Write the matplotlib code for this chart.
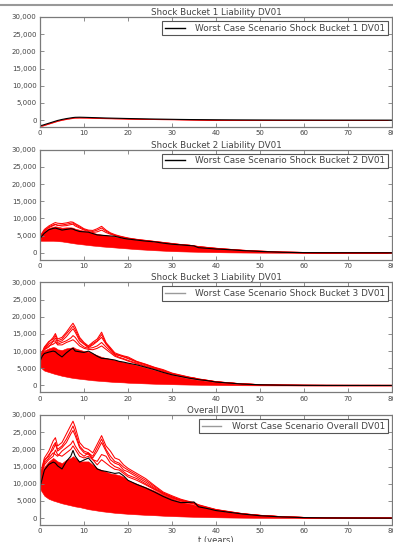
import matplotlib
matplotlib.use("Agg")
import matplotlib.pyplot as plt
from matplotlib.lines import Line2D
from matplotlib.ticker import FuncFormatter
import numpy as np

# time grid (years)
years = [0, 0.5, 1, 2, 3, 3.5, 4, 5, 6, 7, 7.5, 8, 9, 10, 11, 12, 13, 14, 15, 16,
         17, 18, 19, 20, 22, 24, 26, 28, 30, 32, 34, 35, 36, 38, 40, 43, 46, 50, 55, 60,
         65, 70, 80]

titles = ["Shock Bucket 1 Liability DV01", "Shock Bucket 2 Liability DV01",
          "Shock Bucket 3 Liability DV01", "Overall DV01"]
legend_labels = ["Worst Case Scenario Shock Bucket 1 DV01",
                 "Worst Case Scenario Shock Bucket 2 DV01",
                 "Worst Case Scenario Shock Bucket 3 DV01",
                 "Worst Case Scenario Overall DV01"]

# ---- Shock bucket 1 ----
b1_worst = [-1600, -1500, -1300, -900, -500, -300, -100, 200, 450, 650, 750, 820, 850, 820,
            780, 740, 700, 660, 620, 590, 560, 530, 500, 470, 420, 370, 320, 280, 240, 200,
            170, 160, 150, 130, 110, 90, 70, 50, 30, 20, 10, 5, 0]
b1_low = [-1750, -1650, -1450, -1050, -650, -450, -250, 50, 300, 500, 600, 670, 700, 680,
          640, 600, 570, 540, 510, 480, 450, 430, 400, 380, 340, 300, 260, 220, 190, 160,
          140, 130, 120, 100, 85, 70, 55, 40, 25, 15, 8, 4, 0]
b1_high = [-1550, -1450, -1250, -850, -450, -250, -50, 250, 500, 700, 800, 870, 900, 870,
           830, 790, 750, 710, 670, 640, 610, 580, 550, 520, 460, 410, 360, 310, 270, 230,
           200, 185, 170, 150, 130, 100, 80, 60, 35, 22, 12, 6, 0]
b1_paths = []

# ---- Shock bucket 2 ----
b2_worst = [4100, 5000, 5700, 6700, 7100, 7200, 7000, 6600, 6800, 7000, 6900, 6600, 6200,
            6100, 6000, 5600, 5200, 5100, 5000, 4900, 4800, 4500, 4200, 4000, 3700, 3400,
            3200, 2800, 2500, 2300, 2100, 2000, 1500, 1300, 1100, 900, 650, 400, 150, 50,
            20, 10, 0]
b2_low = [3500, 3500, 3500, 3500, 3500, 3450, 3400, 3300, 3100, 2900, 2800, 2700, 2550, 2400,
          2250, 2100, 2000, 1850, 1750, 1650, 1550, 1450, 1350, 1250, 1050, 900, 750, 620,
          500, 420, 350, 320, 290, 230, 180, 120, 80, 40, 15, 5, 0, 0, 0]
b2_high = [4800, 5700, 6400, 7200, 7600, 7700, 7600, 7300, 7400, 7400, 7300, 7000, 6700, 6400,
           6100, 5800, 5500, 5300, 5100, 4900, 4700, 4500, 4300, 4100, 3800, 3500, 3200,
           2900, 2600, 2300, 2100, 1900, 1750, 1500, 1250, 950, 700, 450, 200, 70, 25, 10, 0]
b2_path_a = [4500, 5800, 6800, 7800, 8500, 8800, 8600, 8500, 8700, 9000, 8900, 8500, 7800,
             7000, 6600, 6500, 7000, 7700, 6600, 5800, 5300, 4900, 4600, 4300, 3900, 3600,
             3300, 3000, 2700, 2400, 2200, 2000, 1800, 1550, 1300, 1000, 720, 460, 200, 70,
             25, 10, 0]
b2_path_b = [4300, 5500, 6500, 7500, 8100, 8300, 8000, 8100, 8300, 8600, 8700, 8200, 7500,
             6800, 6400, 6200, 6600, 7200, 6300, 5600, 5100, 4800, 4500, 4200, 3800, 3500,
             3250, 2950, 2650, 2350, 2150, 1950, 1750, 1500, 1250, 970, 700, 450, 200, 70,
             25, 10, 0]
b2_path_c = [4600, 5600, 6300, 7300, 7900, 8200, 8000, 7800, 7900, 8200, 8300, 7800, 7200,
             6600, 6200, 5900, 6100, 6600, 5900, 5400, 5000, 4700, 4400, 4200, 3850, 3550,
             3250, 2950, 2650, 2350, 2150, 1950, 1780, 1520, 1270, 980, 710, 455, 200, 70,
             25, 10, 0]
b2_paths = [b2_path_c, b2_path_b, b2_path_a]

# ---- Shock bucket 3 ----
b3_worst = [7000, 8500, 9300, 9700, 10000, 9800, 9200, 8300, 9500, 10500, 10800, 10000, 9800,
            9600, 10000, 9300, 8500, 7900, 7800, 7600, 7400, 7000, 6800, 6500, 6000, 5300,
            4600, 3800, 3100, 2600, 2100, 1900, 1700, 1400, 1000, 700, 400, 200, 80, 30, 10,
            5, 0]
b3_low = [5500, 4800, 4300, 3900, 3500, 3300, 3150, 2800, 2550, 2300, 2200, 2100, 1950, 1800,
          1650, 1500, 1400, 1300, 1200, 1100, 1000, 950, 900, 800, 700, 600, 500, 430, 370,
          300, 250, 230, 210, 170, 130, 90, 60, 30, 15, 5, 0, 0, 0]
b3_high = [8500, 9500, 10200, 10800, 11200, 11000, 10500, 10300, 10800, 11000, 11200, 10800,
           10400, 10000, 9800, 9300, 8800, 8300, 8000, 7700, 7400, 7100, 6800, 6500, 5900,
           5200, 4500, 3800, 3100, 2500, 2000, 1800, 1600, 1300, 950, 650, 400, 200, 80, 30,
           10, 5, 0]
b3_path_a = [7500, 9500, 11000, 12500, 14000, 15100, 13500, 14000, 15500, 17300, 18100, 17000,
             14000, 12500, 11500, 12600, 13500, 15500, 12500, 11000, 9500, 9000, 8600, 8300,
             7000, 6200, 5300, 4600, 3600, 3000, 2400, 2200, 1900, 1500, 1100, 750, 450, 220,
             90, 30, 10, 5, 0]
b3_path_b = [8000, 9800, 10800, 12000, 13000, 13800, 12500, 13000, 14200, 15800, 16500, 15500,
             13000, 12000, 11000, 11800, 12800, 14000, 12000, 10500, 9000, 8700, 8300, 7800,
             6800, 6000, 5100, 4300, 3400, 2800, 2300, 2100, 1800, 1450, 1050, 720, 430, 210,
             85, 30, 10, 5, 0]
b3_path_c = [7800, 9000, 10500, 11500, 12000, 12500, 12000, 12500, 13000, 13800, 14500, 14000,
             12200, 11200, 10800, 11000, 11500, 12500, 11200, 10000, 8800, 8200, 7800, 7300,
             6500, 5700, 4900, 4100, 3300, 2700, 2200, 2000, 1750, 1400, 1000, 700, 420, 200,
             80, 30, 10, 5, 0]
b3_path_d = [8200, 9300, 10400, 11200, 12800, 13000, 11800, 11800, 12500, 13000, 13300, 12800,
             11500, 10800, 10500, 10400, 10800, 11500, 10500, 9500, 8500, 8000, 7600, 7100,
             6300, 5500, 4800, 4000, 3200, 2650, 2150, 1950, 1700, 1380, 980, 690, 410, 200,
             80, 30, 10, 5, 0]
b3_path_e = [7700, 9600, 11200, 12800, 13500, 14500, 13000, 13500, 15000, 16500, 17300, 16200,
             13500, 12200, 11200, 12200, 13000, 14800, 12200, 10700, 9200, 8800, 8400, 8000,
             6900, 6100, 5200, 4400, 3500, 2900, 2350, 2150, 1850, 1480, 1080, 740, 440, 215,
             88, 30, 10, 5, 0]
b3_paths = [b3_path_d, b3_path_c, b3_path_b, b3_path_e, b3_path_a]

# ---- Overall ----
all_worst = [9000, 11500, 14000, 15600, 16300, 16000, 15200, 14300, 16500, 18000, 19700, 18000,
             16300, 16900, 17500, 16000, 14300, 13800, 13600, 13300, 13000, 13200, 12300,
             11000, 9800, 8800, 7600, 6300, 5200, 4500, 4600, 4700, 3300, 2800, 2200, 1700,
             1200, 700, 350, 150, 60, 30, 0]
all_low = [8500, 7500, 6500, 5600, 5100, 4900, 4700, 4300, 4000, 3700, 3550, 3400, 3200, 2900,
           2600, 2400, 2200, 2000, 1850, 1700, 1550, 1450, 1350, 1250, 1100, 950, 850, 700,
           600, 500, 420, 380, 350, 300, 250, 180, 130, 80, 40, 20, 10, 5, 0]
all_high = [11000, 13500, 15000, 16500, 17500, 17000, 16500, 16000, 17000, 17500, 18000, 17500,
            16500, 16500, 16500, 15500, 14500, 14000, 13500, 13000, 12800, 12500, 12000, 11000,
            10000, 9000, 8000, 6800, 5800, 4800, 4200, 3900, 3500, 2900, 2300, 1700, 1200, 750,
            380, 170, 70, 30, 0]
all_path_a = [10000, 15000, 17500, 19500, 22500, 23400, 21000, 22000, 24500, 27000, 28200,
              26500, 22000, 20500, 20000, 19000, 21500, 24000, 21000, 19500, 17500, 17000,
              15500, 14500, 13000, 11500, 9500, 7600, 6500, 5500, 4800, 4500, 3900, 3200, 2500,
              1900, 1300, 800, 400, 180, 70, 30, 0]
all_path_b = [9500, 14000, 16500, 18500, 20000, 21500, 19500, 20500, 22000, 24500, 25500, 24000,
              20500, 19000, 18500, 17500, 19500, 22000, 19500, 17000, 16000, 15500, 14000,
              13500, 12000, 10500, 8800, 7000, 6000, 5200, 4600, 4300, 3700, 3000, 2400, 1800,
              1250, 780, 390, 170, 70, 30, 0]
all_path_c = [10500, 13000, 16000, 17500, 19000, 18500, 18000, 19500, 20500, 21500, 22500,
              21000, 19000, 18000, 19000, 17000, 16500, 18500, 18000, 16000, 15000, 14500,
              13500, 12500, 11500, 10000, 8500, 7300, 6200, 5000, 4400, 4100, 3600, 3000, 2350,
              1750, 1200, 760, 380, 170, 70, 30, 0]
all_path_d = [10000, 13500, 15500, 17000, 18000, 19800, 18500, 18000, 19000, 20000, 21000,
              20000, 18000, 17500, 18000, 17000, 15500, 17000, 16000, 15000, 14200, 14000,
              13000, 12000, 11000, 9700, 8300, 7000, 5900, 5000, 4400, 4200, 3600, 2950, 2300,
              1750, 1200, 760, 380, 170, 70, 30, 0]
all_path_e = [9800, 14500, 17000, 18000, 21000, 22000, 20000, 21000, 23000, 25500, 26800,
              25000, 21000, 19500, 19000, 18000, 20500, 23000, 20000, 18000, 16500, 16000,
              14800, 14000, 12500, 11000, 9200, 7300, 6200, 5300, 4700, 4400, 3800, 3100, 2450,
              1850, 1280, 790, 395, 175, 70, 30, 0]
all_paths = [all_path_d, all_path_c, all_path_b, all_path_e, all_path_a]

panels = [
    (b1_low, b1_high, b1_paths, b1_worst, "black"),
    (b2_low, b2_high, b2_paths, b2_worst, "black"),
    (b3_low, b3_high, b3_paths, b3_worst, "#9a9a9a"),
    (all_low, all_high, all_paths, all_worst, "#9a9a9a"),
]

text_color = "#444444"
spine_color = "#7a7a7a"

fig = plt.figure(figsize=(3.93, 5.42), dpi=100)
axes = fig.subplots(4, 1)
fig.subplots_adjust(left=40 / 393, right=392 / 393, top=1 - 17 / 542,
                    bottom=1 - 525 / 542, hspace=0.206)

comma = FuncFormatter(lambda v, p: f"{int(v):,}")
t = np.array(years, dtype=float)

for ax, title, label, (lo, hi, paths, worst, handle_col) in zip(axes, titles, legend_labels, panels):
    ax.fill_between(t, lo, hi, color="red", lw=0.4, edgecolor="red")
    for p in paths:
        ax.plot(t, p, color="red", lw=0.75)
    ax.plot(t, worst, color="black", lw=0.8)

    ax.set_xlim(0, 80)
    ax.set_ylim(-2000, 30000)
    ax.set_xticks(np.arange(0, 81, 10))
    ax.set_yticks(np.arange(0, 30001, 5000))
    ax.yaxis.set_major_formatter(comma)
    ax.tick_params(direction="in", top=True, right=True, length=3, width=0.6,
                   labelsize=5, pad=2.5, colors=spine_color, labelcolor=text_color)
    for s in ax.spines.values():
        s.set_color(spine_color)
        s.set_linewidth(0.9)
    ax.set_title(title, fontsize=6.3, pad=1.5, color=text_color)

    handle = Line2D([], [], color=handle_col, lw=1.0)
    leg = ax.legend([handle], [label], loc="upper right", fontsize=6.4, fancybox=False,
                    framealpha=1, edgecolor="#555555", borderaxespad=0.45,
                    borderpad=0.3, handlelength=2.2, handletextpad=1.2)
    leg.get_frame().set_linewidth(0.8)
    for txt in leg.get_texts():
        txt.set_color(text_color)

axes[-1].set_xlabel("t (years)", fontsize=6, color=text_color, labelpad=1)

# frame line across the top
fig.add_artist(Line2D([0, 1], [1 - 5 / 542, 1 - 5 / 542], transform=fig.transFigure,
                      color="#999999", lw=1.5))

fig.savefig("out.png", dpi=100)
